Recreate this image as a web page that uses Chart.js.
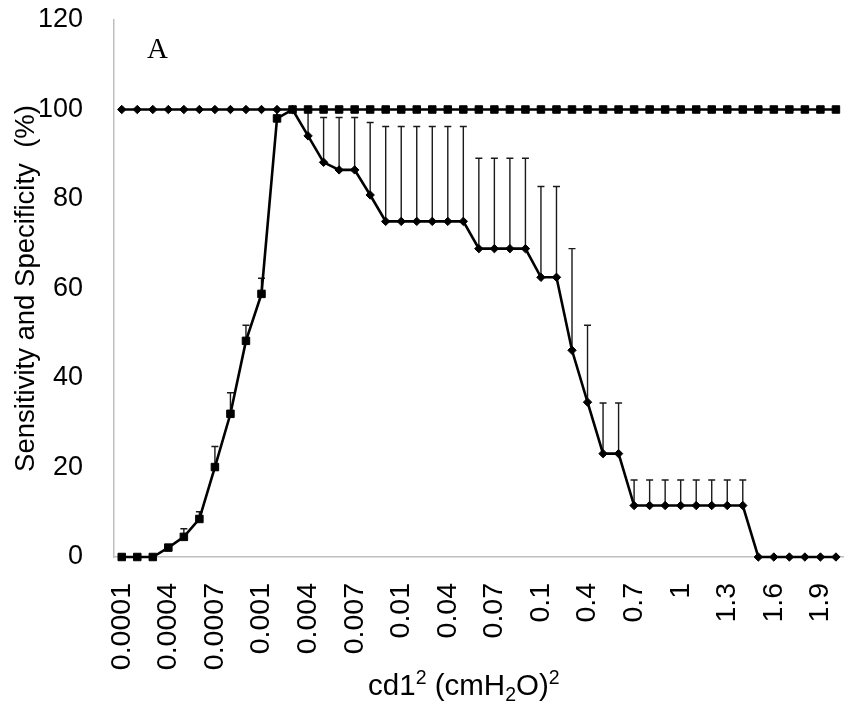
<!DOCTYPE html>
<html>
<head>
<meta charset="utf-8">
<script src="https://cdn.jsdelivr.net/npm/chart.js@4/dist/chart.umd.min.js"></script>
<style>
  html, body { margin: 0; padding: 0; background: #fff; overflow: hidden; }
  #wrap { width: 844px; height: 706px; overflow: hidden; }
  #box { width: 850px; height: 706px; }
</style>
</head>
<body>
<div id="wrap"><div id="box"><canvas id="chart"></canvas></div></div>
<script>
// cd1^2 thresholds (cmH2O)^2
const doses = [
    '0.0001', '0.0002', '0.0003', '0.0004', '0.0005', '0.0006', '0.0007', '0.0008', '0.0009',
    '0.001', '0.002', '0.003', '0.004', '0.005', '0.006', '0.007', '0.008', '0.009',
    '0.01', '0.02', '0.03', '0.04', '0.05', '0.06', '0.07', '0.08', '0.09',
    '0.1', '0.2', '0.3', '0.4', '0.5', '0.6', '0.7', '0.8', '0.9',
    '1', '1.1', '1.2', '1.3', '1.4', '1.5', '1.6', '1.7', '1.8', '1.9', '2'
];

// squares
const sensitivity = [
    0, 0, 0, 2.1, 4.5, 8.5, 20.1, 32, 48.3, 58.8, 98, 100,
    100, 100, 100, 100, 100, 100, 100, 100, 100, 100, 100, 100,
    100, 100, 100, 100, 100, 100, 100, 100, 100, 100, 100, 100,
    100, 100, 100, 100, 100, 100, 100, 100, 100, 100, 100
];
const sensitivityErr = [
    0, 0, 0, 0, 1.8, 1.6, 4.6, 4.7, 3.5, 3.5, 2, 0
];

// diamonds
const specificity = [
    100, 100, 100, 100, 100, 100, 100, 100, 100, 100, 100, 100,
    94.1, 88.2, 86.5, 86.5, 80.9,
    75, 75, 75, 75, 75, 75,
    68.9, 68.9, 68.9, 68.9,
    62.5, 62.5, 46.2, 34.6, 23.1, 23.1,
    11.5, 11.5, 11.5, 11.5, 11.5, 11.5, 11.5, 11.5,
    0, 0, 0, 0, 0, 0
];
const specificityErr = [
    0, 0, 0, 0, 0, 0, 0, 0, 0, 0, 0, 0,
    5.9, 10, 11.7, 11.7, 16.2,
    21.2, 21.2, 21.2, 21.2, 21.2, 21.2,
    20.2, 20.2, 20.2, 20.2,
    20.3, 20.3, 22.7, 17.2, 11.3, 11.3,
    5.7, 5.7, 5.7, 5.7, 5.7, 5.7, 5.7, 5.7
];

const yTicks = [0, 20, 40, 60, 80, 100, 120];

// x title pieces: [text, 0 normal / 1 superscript / -1 subscript]
const xTitle = [['cd1', 0], ['2', 1], [' (cmH', 0], ['2', -1], ['O)', 0], ['2', 1]];

const FONT = "'Liberation Sans', Arial, sans-serif";

// upper error bars, drawn under the lines
const errorBars = {
    id: 'errorBars',
    beforeDatasetsDraw(chart) {
        const { ctx, scales: { x, y } } = chart;
        const sets = [[sensitivity, sensitivityErr], [specificity, specificityErr]];
        ctx.save();
        ctx.strokeStyle = '#1a1a1a';
        ctx.lineWidth = 1.4;
        sets.forEach(([vals, errs]) => {
            errs.forEach((e, i) => {
                if (!e) return;
                const px = x.getPixelForValue(i);
                const y0 = y.getPixelForValue(vals[i]);
                const y1 = y.getPixelForValue(vals[i] + e);
                ctx.beginPath();
                ctx.moveTo(px, y0);
                ctx.lineTo(px, y1);
                ctx.moveTo(px - 3.5, y1);
                ctx.lineTo(px + 3.5, y1);
                ctx.stroke();
            });
        });
        ctx.restore();
    }
};

// panel letter and the x axis title with its sub/superscripts
const annotations = {
    id: 'annotations',
    afterDraw(chart) {
        const { ctx, chartArea } = chart;
        ctx.save();
        ctx.fillStyle = '#000';
        ctx.font = "29px 'Liberation Serif', 'Times New Roman', serif";
        ctx.textBaseline = 'alphabetic';
        ctx.fillText('A', chartArea.left + 33, chartArea.top + 38);

        const big = '29.5px ' + FONT;
        const small = '19.5px ' + FONT;
        let total = 0;
        xTitle.forEach(([t, s]) => {
            ctx.font = s ? small : big;
            total += ctx.measureText(t).width;
        });
        let px = (chartArea.left + chartArea.right) / 2 - 15 - total / 2;
        const base = chart.height - 11;
        xTitle.forEach(([t, s]) => {
            ctx.font = s ? small : big;
            ctx.fillText(t, px, base - (s === 1 ? 11 : s === -1 ? -6 : 0));
            px += ctx.measureText(t).width;
        });
        ctx.restore();
    }
};

new Chart(document.getElementById('chart'), {
    type: 'line',
    data: {
        labels: doses,
        datasets: [{
            label: 'Specificity',
            data: specificity,
            borderColor: '#000',
            backgroundColor: '#000',
            borderWidth: 2.6,
            pointStyle: 'rectRot',
            pointRadius: 4.2,
            pointBorderWidth: 1,
            tension: 0,
            clip: false
        }, {
            label: 'Sensitivity',
            data: sensitivity,
            borderColor: '#000',
            backgroundColor: '#000',
            borderWidth: 2.6,
            pointStyle: 'rect',
            pointRadius: 5.3,
            pointBorderWidth: 1,
            tension: 0,
            clip: false
        }]
    },
    options: {
        responsive: true,
        maintainAspectRatio: false,
        animation: false,
        layout: { padding: { top: 20, left: 0, right: 0, bottom: 0 } },
        plugins: {
            legend: { display: false },
            tooltip: { enabled: false }
        },
        scales: {
            x: {
                offset: true,
                grid: { display: false, drawTicks: false },
                border: { display: true, color: '#bfbfbf', width: 1.5 },
                ticks: {
                    autoSkip: false,
                    maxRotation: 90,
                    minRotation: 90,
                    padding: 26,
                    color: '#000',
                    font: { family: FONT, size: 28.5 },
                    callback: (v, i) => (i % 3 === 0 ? doses[i] : '')
                },
                title: { display: false },
                afterFit(scale) {
                    scale.height = 149;
                    scale.paddingLeft = 0;
                    scale.paddingRight = 0;
                }
            },
            y: {
                min: 0,
                max: 120,
                grid: { display: false, drawTicks: false },
                border: { display: true, color: '#bfbfbf', width: 1.5 },
                afterBuildTicks(scale) {
                    scale.ticks = yTicks.map(v => ({ value: v }));
                },
                ticks: {
                    padding: 31,
                    color: '#000',
                    font: { family: FONT, size: 27 }
                },
                title: {
                    display: true,
                    text: 'Sensitivity and Specificity  (%)',
                    color: '#000',
                    font: { family: FONT, size: 27.5 },
                    padding: { top: 10, bottom: 0 }
                },
                afterFit(scale) {
                    scale.width = 114;
                    scale.paddingTop = 0;
                    scale.paddingBottom = 0;
                }
            }
        }
    },
    plugins: [errorBars, annotations]
});
</script>
</body>
</html>
